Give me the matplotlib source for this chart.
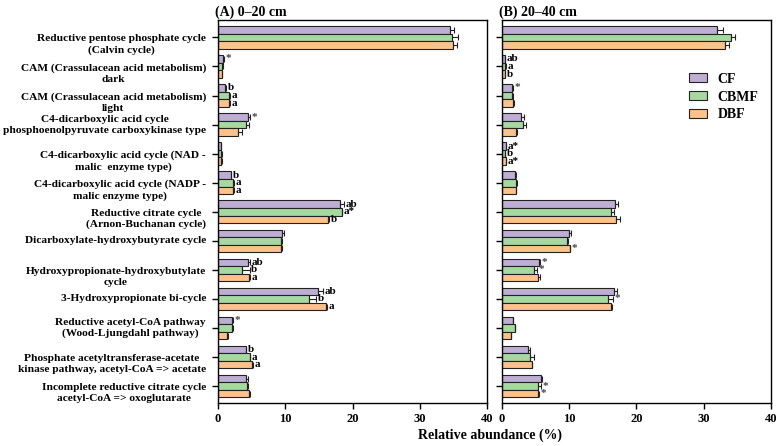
import numpy as np
import matplotlib
matplotlib.use("Agg")
import matplotlib.pyplot as plt
from matplotlib.patches import Patch

plt.rcParams['font.family'] = ['Liberation Serif', 'DejaVu Serif']
plt.rcParams['font.weight'] = 'bold'

# pathway names (top to bottom)
pathways = [
    "Reductive pentose phosphate cycle\n(Calvin cycle)",
    "CAM (Crassulacean acid metabolism)\ndark",
    "CAM (Crassulacean acid metabolism)\nlight",
    "C4-dicarboxylic acid cycle\nphosphoenolpyruvate carboxykinase type",
    "C4-dicarboxylic acid cycle (NAD -\nmalic  enzyme type)",
    "C4-dicarboxylic acid cycle (NADP -\nmalic enzyme type)",
    "Reductive citrate cycle\n(Arnon-Buchanan cycle)",
    "Dicarboxylate-hydroxybutyrate cycle",
    "Hydroxypropionate-hydroxybutylate\ncycle",
    "3-Hydroxypropionate bi-cycle",
    "Reductive acetyl-CoA pathway\n(Wood-Ljungdahl pathway)",
    "Phosphate acetyltransferase-acetate\nkinase pathway, acetyl-CoA => acetate",
    "Incomplete reductive citrate cycle\nacetyl-CoA => oxoglutarate",
]
# which labels are centred on the tick (others: first line on the tick)
label_centered = [False, False, False, True, False, False, False, True, False, True, True, False, False]

treatments = ["CF", "CBMF", "DBF"]
colors = ["#BEAED4", "#A6D9A0", "#FDC18A"]

# (A) 0-20 cm
a_cf   = [34.5, 0.8, 1.1, 4.5, 0.45, 1.9, 18.1, 9.55, 4.5, 14.9, 2.1, 4.1, 4.1]
a_cbmf = [34.8, 0.65, 1.7, 4.1, 0.5, 2.3, 18.4, 9.4, 3.6, 13.6, 2.1, 4.7, 4.3]
a_dbf  = [34.9, 0.6, 1.7, 2.9, 0.5, 2.3, 16.4, 9.4, 4.6, 16.1, 1.4, 5.1, 4.6]
a_cf_err   = [0.6, 0.1, 0.05, 0.25, 0.05, 0.05, 0.6, 0.2, 0.2, 0.7, 0.1, 0.1, 0.3]
a_cbmf_err = [0.9, 0.1, 0.1, 0.5, 0.05, 0.1, 0.1, 0.1, 1.1, 1.0, 0.1, 0.1, 0.1]
a_dbf_err  = [0.6, 0.05, 0.1, 0.6, 0.05, 0.05, 0.1, 0.1, 0.2, 0.1, 0.1, 0.1, 0.2]
a_marks = [
    ["", "", ""], ["*", "", ""], ["b", "a", "a"], ["*", "", ""], ["", "", ""],
    ["b", "a", "a"], ["ab", "a*", "b"], ["", "", ""], ["ab", "b", "a"],
    ["ab", "b", "a"], ["*", "", ""], ["b", "a", "a"], ["", "", ""],
]

# (B) 20-40 cm
b_cf   = [32.0, 0.45, 1.5, 2.9, 0.55, 2.0, 16.8, 10.0, 5.5, 16.7, 1.6, 3.9, 5.8]
b_cbmf = [34.1, 0.5, 1.5, 3.2, 0.4, 2.1, 16.2, 9.65, 4.8, 15.7, 1.9, 4.2, 5.35]
b_dbf  = [33.2, 0.45, 1.7, 2.1, 0.55, 2.1, 17.0, 10.05, 5.4, 16.2, 1.35, 4.4, 5.35]
b_cf_err   = [0.8, 0.05, 0.1, 0.4, 0.05, 0.05, 0.5, 0.3, 0.1, 0.4, 0.05, 0.3, 0.2]
b_cbmf_err = [0.5, 0.05, 0.1, 0.3, 0.05, 0.1, 0.4, 0.1, 0.45, 0.75, 0.1, 0.6, 0.4]
b_dbf_err  = [0.6, 0.05, 0.05, 0.1, 0.05, 0.05, 0.5, 0.1, 0.2, 0.1, 0.05, 0.1, 0.1]
b_marks = [
    ["", "", ""], ["ab", "a", "b"], ["*", "", ""], ["", "", ""], ["a*", "b", "a*"],
    ["", "", ""], ["", "", ""], ["", "", "*"], ["*", "*", ""],
    ["", "*", ""], ["", "", ""], ["", "", ""], ["", "*", "*"],
]

fig = plt.figure(figsize=(7.78, 4.46), dpi=100)
axA = fig.add_axes([0.2802, 0.0964, 0.3458, 0.8588])
axB = fig.add_axes([0.6452, 0.0964, 0.3458, 0.8588])

y = np.arange(len(pathways))
h = 0.26


def draw_panel(ax, vals, errs, marks, title):
    for k in range(3):
        pos = y + (k - 1) * h
        v = np.array(vals[k])
        e = np.array(errs[k])
        ax.barh(pos, v, height=h, color=colors[k], edgecolor="#222222",
                linewidth=0.8, label=treatments[k], zorder=2)
        ax.errorbar(v, pos, xerr=[np.zeros_like(e), e], fmt="none",
                    ecolor="#222222", elinewidth=0.8, capsize=2.5,
                    capthick=0.8, zorder=3)
        for i in range(len(pathways)):
            m = marks[i][k]
            if m:
                ax.annotate(m, xy=(v[i] + e[i], pos[i]), xytext=(1.2, 0),
                            textcoords="offset points", ha="left",
                            va="center", fontsize=8, fontweight="bold",
                            color="#444444" if m == "*" else "black")
    ax.set_xlim(0, 40)
    ax.set_ylim(len(pathways) - 0.42, -0.6)
    ax.set_xticks([0, 10, 20, 30, 40])
    ax.set_yticks(y)
    ax.set_yticklabels([])
    ax.tick_params(axis="both", direction="out", length=4, width=1,
                   labelsize=9)
    for lab in ax.get_xticklabels():
        lab.set_fontweight("bold")
    for s in ax.spines.values():
        s.set_linewidth(1.0)
    ax.set_title(title, loc="left", fontsize=10, fontweight="bold",
                 pad=3, x=-0.01)


draw_panel(axA, [a_cf, a_cbmf, a_dbf], [a_cf_err, a_cbmf_err, a_dbf_err],
           a_marks, "(A) 0\u201320 cm")
draw_panel(axB, [b_cf, b_cbmf, b_dbf], [b_cf_err, b_cbmf_err, b_dbf_err],
           b_marks, "(B) 20\u201340 cm")

# y labels of panel A
trans = axA.get_yaxis_transform()
for i, name in enumerate(pathways):
    shift = 0.0 if (label_centered[i] or "\n" not in name) else 0.25
    axA.text(-0.045, i + shift, name, transform=trans, ha="right",
             va="center", multialignment="center", fontsize=8.2,
             fontweight="bold", linespacing=1.3)

handles = [Patch(facecolor=colors[k], edgecolor="#222222", linewidth=0.8,
                 label=treatments[k]) for k in range(3)]
axB.legend(handles=handles, loc="upper right", bbox_to_anchor=(1.0, 0.895),
           frameon=False, prop={"size": 10, "weight": "bold"},
           handlelength=1.25, handleheight=0.6, labelspacing=0.35,
           handletextpad=0.8)

fig.text(0.63, 0.008, "Relative abundance (%)", ha="center", va="bottom",
         fontsize=10, fontweight="bold")

fig.savefig("out.png", dpi=100)
